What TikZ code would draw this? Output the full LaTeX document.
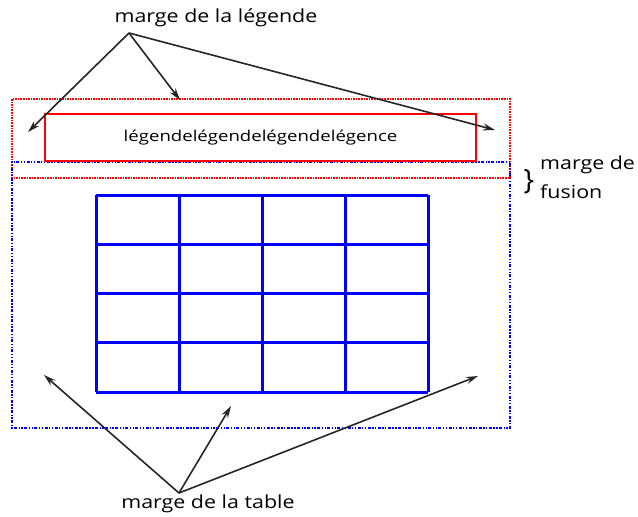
\documentclass[tikz,border=0pt]{standalone}
\usepackage{fontspec}
\setmainfont{Open Sans}
\newfontfamily\lblfont[FakeStretch=1.19]{Open Sans}
\newfontfamily\legfont[FakeStretch=1.24]{Open Sans}
\usetikzlibrary{positioning,arrows.meta}
\tikzset{
  legmarge/.style={draw=red, line width=1.6pt, densely dotted},
  tabmarge/.style={draw=blue, line width=1.6pt, dash pattern=on 1.3pt off 1.5pt on 1.3pt off 1.5pt on 3pt off 1.5pt},
  legcadre/.style={draw=red, line width=2.8pt, minimum width=431pt, minimum height=47pt, inner sep=0pt, font=\legfont\fontsize{15}{17}\selectfont},
  cellgrid/.style={blue, line width=3pt},
  lbl/.style={font=\lblfont\fontsize{18}{21}\selectfont, inner sep=1pt},
  pointe/.style={-{Stealth[length=12pt,width=7pt]}, line width=1.6pt, black!85},
}
\begin{document}
\begin{tikzpicture}[x=1pt, y=-1pt]
\useasboundingbox (0,0) rectangle (638,517);
% marges
\draw[legmarge] (12,99) rectangle (510,178); % marge de la legende
\draw[tabmarge] (12,162) rectangle (510,428); % marge de la table
\node[legcadre, fill=white] (legende) at (260.5,137.5) {légendelégendelégendelégence};
% table
\foreach \i in {0,...,4} {
  \draw[cellgrid] (96+83*\i,195) -- (96+83*\i,392);
  \draw[cellgrid] (96,195+49.25*\i) -- (428,195+49.25*\i);
}
% etiquettes
\node[lbl] (lbltop) at (216,18) {marge de la légende};
\node[lbl] (lblbot) at (208,504) {marge de la table};
\node[lbl, align=left, anchor=west, font=\lblfont\fontsize{18}{29}\selectfont] (lblfus) at (539,177) {marge de\\fusion};
\node[font=\fontsize{28}{28}\selectfont, inner sep=0pt] (brace) at (529,182) {\}};
% fleches
\coordinate (rtop) at (129,33);
\coordinate (rbot) at (179,493);
\coordinate (t1) at (28,132);
\coordinate (t2) at (180,100);
\coordinate (t3) at (495,130);
\coordinate (b1) at (44,375);
\coordinate (b2) at (231,406);
\coordinate (b3) at (478,376);
\foreach \t in {t1,t2,t3} \draw[pointe] (rtop) -- (\t);
\foreach \b in {b1,b2,b3} \draw[pointe] (rbot) -- (\b);
\end{tikzpicture}
\end{document}
